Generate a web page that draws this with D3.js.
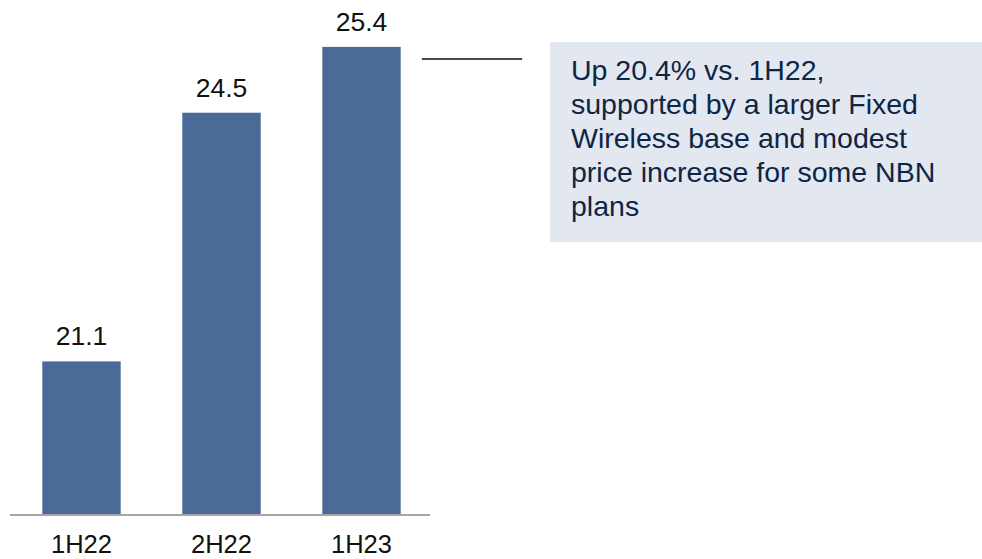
<!DOCTYPE html>
<html>
<head>
<meta charset="utf-8">
<script src="https://cdn.jsdelivr.net/npm/d3@7/dist/d3.min.js"></script>
<style>
  html, body { margin: 0; padding: 0; background: #fff; }
  svg { display: block; font-family: Arial, "Liberation Sans", sans-serif; }
</style>
</head>
<body>
<svg id="chart" width="982" height="559"></svg>
<script>
// Half-year periods and their values
const categories = ["1H22", "2H22", "1H23"];
const values = [21.1, 24.5, 25.4];
// Commentary shown beside the latest bar
const noteLines = [
  "Up 20.4% vs. 1H22,",
  "supported by a larger Fixed",
  "Wireless base and modest",
  "price increase for some NBN",
  "plans"
];

const svg = d3.select("#chart");

const x = d3.scaleBand()
  .domain(categories)
  .range([11.5, 431.5])
  .paddingInner(0.44)
  .paddingOuter(0.22);

const y = d3.scaleLinear()
  .domain([19, 26])
  .range([515, 3]);

// Bars
svg.append("g")
  .selectAll("rect")
  .data(values)
  .join("rect")
  .attr("x", (d, i) => x(categories[i]))
  .attr("y", d => y(d))
  .attr("width", x.bandwidth())
  .attr("height", d => y(19) - y(d))
  .attr("fill", "#4a6a98");

// Baseline
svg.append("line")
  .attr("x1", 10).attr("x2", 430)
  .attr("y1", y(19)).attr("y2", y(19))
  .attr("stroke", "#a6a6a6")
  .attr("stroke-width", 2);

// Value labels
svg.append("g")
  .selectAll("text")
  .data(values)
  .join("text")
  .attr("x", (d, i) => x(categories[i]) + x.bandwidth() / 2)
  .attr("y", d => y(d) - 16)
  .attr("text-anchor", "middle")
  .attr("font-size", 26.5)
  .attr("fill", "#111")
  .text(d => d.toFixed(1));

// Category labels
const xAxis = d3.axisBottom(x).tickSize(0).tickPadding(0);
const axisG = svg.append("g")
  .attr("transform", `translate(0, ${y(19)})`)
  .call(xAxis);
axisG.select(".domain").remove();
axisG.selectAll("text")
  .attr("dy", null)
  .attr("y", 38)
  .attr("font-size", 25.5)
  .attr("font-family", "Arial, 'Liberation Sans', sans-serif")
  .attr("fill", "#111");

// Callout connector from the latest bar
const last = values[values.length - 1];
svg.append("line")
  .attr("x1", 422).attr("x2", 522)
  .attr("y1", y(last) + 12).attr("y2", y(last) + 12)
  .attr("stroke", "#4a4a4a")
  .attr("stroke-width", 2);

// Commentary box
svg.append("rect")
  .attr("x", 550).attr("y", 42)
  .attr("width", 432).attr("height", 200)
  .attr("fill", "#e3e7f0");

svg.append("g")
  .selectAll("text")
  .data(noteLines)
  .join("text")
  .attr("x", 571)
  .attr("y", (d, i) => 80 + i * 34)
  .attr("font-size", 28.5)
  .attr("fill", "#0d2645")
  .text(d => d);
</script>
</body>
</html>
